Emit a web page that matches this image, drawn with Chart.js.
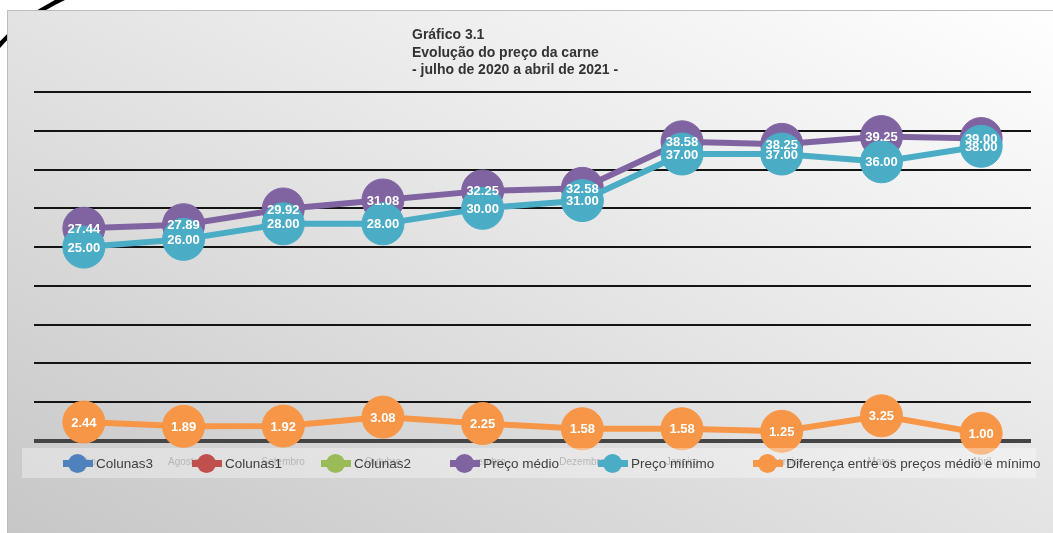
<!DOCTYPE html>
<html lang="pt">
<head>
<meta charset="utf-8">
<title>Gráfico 3.1</title>
<script src="https://cdn.jsdelivr.net/npm/chart.js@4.4.1/dist/chart.umd.min.js"></script>
<style>
    html, body { margin: 0; padding: 0; background: #fff; overflow: hidden; }
    #wrap { position: relative; width: 1053px; height: 533px; font-family: "Liberation Sans", Arial, sans-serif; }
    #caixa {
        position: absolute; left: 7px; top: 10px; width: 1060px; height: 540px;
        border: 1px solid #bdbdbd;
        background: linear-gradient(to bottom left, #ffffff 0%, #e9e9e9 40%, #c6c6c6 100%);
    }
    #grafico { position: absolute; left: 0; top: 0; }
    #titulo {
        position: absolute; left: 412px; top: 26px;
        font-size: 14px; font-weight: bold; line-height: 17.5px; color: #333;
    }
    #legenda {
        position: absolute; left: 22px; top: 448px; width: 1014px; height: 30px;
        background: rgba(255, 255, 255, 0.35);
        display: flex; align-items: center; padding-left: 41px; box-sizing: border-box;
        white-space: nowrap;
    }
    .item { display: flex; align-items: center; margin-right: 39px; font-size: 13.5px; color: #404040; white-space: nowrap; flex-shrink: 0; }
    .marca { position: relative; width: 30px; height: 19px; margin-right: 3px; flex-shrink: 0; }
    .marca .linha { position: absolute; left: 0; top: 6px; width: 30px; height: 7px; }
    .marca .bola { position: absolute; left: 5px; top: 0; width: 19px; height: 19px; border-radius: 50%; }
    #risco { position: absolute; left: 0; top: 0; }
</style>
</head>
<body>
<div id="wrap">
    <svg id="risco" width="80" height="60"><path d="M -2 47 Q 22 18 64 -2" stroke="#000" stroke-width="4.5" fill="none"/></svg>
    <div id="caixa"></div>
    <canvas id="grafico" width="1053" height="533"></canvas>
    <div id="titulo">Gráfico 3.1<br>Evolução do preço da carne<br>- julho de 2020 a abril de 2021 -</div>
    <div id="legenda"></div>
</div>
<script>
const meses = ['Julho', 'Agosto', 'Setembro', 'Outubro', 'Novembro', 'Dezembro', 'Janeiro', 'Fevereiro', 'Março', 'Abril'];
const precoMedio = [27.44, 27.89, 29.92, 31.08, 32.25, 32.58, 38.58, 38.25, 39.25, 39.00];
const precoMinimo = [25.00, 26.00, 28.00, 28.00, 30.00, 31.00, 37.00, 37.00, 36.00, 38.00];
const diferenca = [2.44, 1.89, 1.92, 3.08, 2.25, 1.58, 1.58, 1.25, 3.25, 1.00];

const legendaNomes = ['Colunas3', 'Colunas1', 'Colunas2', 'Preço médio', 'Preço mínimo', 'Diferença entre os preços médio e mínimo'];
const legendaCores = ['#4F81BD', '#C0504D', '#9BBB59', '#8064A2', '#4BACC6', '#F79646'];

function montarLegenda() {
    const legenda = document.getElementById('legenda');
    legendaNomes.forEach((nome, i) => {
        const item = document.createElement('div');
        item.className = 'item';
        item.innerHTML = `<span class="marca"><span class="linha" style="background:${legendaCores[i]}"></span><span class="bola" style="background:${legendaCores[i]}"></span></span><span>${nome}</span>`;
        legenda.appendChild(item);
    });
}

const rotulosPontos = {
    id: 'rotulosPontos',
    afterDatasetsDraw(chart) {
        const ctx = chart.ctx;
        ctx.save();
        ctx.font = 'bold 13px "Liberation Sans", Arial, sans-serif';
        ctx.fillStyle = '#ffffff';
        ctx.textAlign = 'center';
        ctx.textBaseline = 'middle';
        chart.data.datasets.forEach((ds, i) => {
            const meta = chart.getDatasetMeta(i);
            meta.data.forEach((ponto, j) => {
                ctx.fillText(ds.data[j].toFixed(2), ponto.x, ponto.y + 1);
            });
        });
        ctx.restore();
    }
};

function serie(label, dados, cor, ordem) {
    return {
        label: label,
        data: dados,
        borderColor: cor,
        backgroundColor: cor,
        pointBackgroundColor: cor,
        pointBorderColor: cor,
        pointBorderWidth: 1,
        pointRadius: 21,
        borderWidth: 6,
        tension: 0,
        order: ordem,
        clip: false
    };
}

montarLegenda();

new Chart(document.getElementById('grafico'), {
    type: 'line',
    data: {
        labels: meses,
        datasets: [
            serie('Preço médio', precoMedio, '#8064A2', 3),
            serie('Preço mínimo', precoMinimo, '#4BACC6', 2),
            serie('Diferença entre os preços médio e mínimo', diferenca, '#F79646', 1)
        ]
    },
    options: {
        responsive: false,
        animation: false,
        layout: { padding: { left: 34, right: 16, top: 92, bottom: 50 } },
        plugins: {
            legend: { display: false },
            title: { display: false },
            tooltip: { enabled: false }
        },
        scales: {
            x: {
                offset: true,
                grid: { display: false, drawTicks: false },
                border: { display: false },
                ticks: {
                    padding: 15,
                    color: '#8f8f8f',
                    font: { family: '"Liberation Sans", Arial, sans-serif', size: 10 }
                }
            },
            y: {
                min: 0,
                max: 45,
                ticks: { display: false, stepSize: 5 },
                border: { display: false },
                grid: {
                    drawTicks: false,
                    color: c => c.tick.value === 0 ? '#454545' : '#141414',
                    lineWidth: c => c.tick.value === 0 ? 4 : 2
                }
            }
        }
    },
    plugins: [rotulosPontos]
});
</script>
</body>
</html>
